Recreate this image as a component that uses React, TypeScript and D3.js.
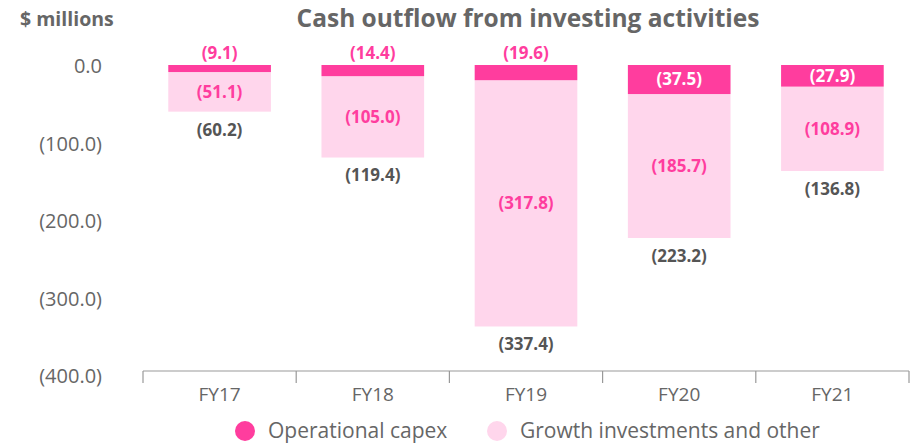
import * as d3 from 'd3';

const years = ['FY17', 'FY18', 'FY19', 'FY20', 'FY21'];
const capex = [9.1, 14.4, 19.6, 37.5, 27.9];
const growth = [51.1, 105.0, 317.8, 185.7, 108.9];
const totals = [60.2, 119.4, 337.4, 223.2, 136.8];
const yTicks = [0, -100, -200, -300, -400];

const DARK = '#ff3d9e';
const LIGHT = '#ffd6ec';
const GREY = '#666666';
const FONT = '"Open Sans", Lato, sans-serif';

const fmt = (v: number) => (v === 0 ? '0.0' : `(${Math.abs(v).toFixed(1)})`);

function App() {
  const width = 910;
  const height = 443;
  const axisY = 371;

  const x = d3.scaleBand<string>()
    .domain(years)
    .range([143, 909])
    .paddingInner(0.33)
    .paddingOuter(0.165);

  const y = d3.scaleLinear().domain([0, -400]).range([65, 375]);

  return (
    <svg width={width} height={height} style={{ position: 'absolute', left: 0, top: 0, fontFamily: FONT }}>
      <rect width={width} height={height} fill="#fff" />
      <text x={20} y={26} fontSize={19.5} fontWeight={700} fill={GREY}>$ millions</text>
      <text x={528} y={27} fontSize={24.5} fontWeight={700} fill={GREY} textAnchor="middle">
        Cash outflow from investing activities
      </text>

      {/* y tick labels */}
      {yTicks.map(t => (
        <text key={t} x={102} y={y(t) + 1} dy="0.35em" textAnchor="end" fontSize={20} fill={GREY}>
          {fmt(t)}
        </text>
      ))}

      {/* bars */}
      {years.map((yr, i) => {
        const x0 = x(yr)!;
        const bw = x.bandwidth();
        const cx = x0 + bw / 2;
        const c = capex[i];
        const g = growth[i];
        const capBottom = y(-c);
        const bottom = y(-(c + g));
        const big = capBottom - y(0) > 20;
        return (
          <g key={yr}>
            <rect x={x0} y={capBottom} width={bw} height={bottom - capBottom} fill={LIGHT} />
            <rect x={x0} y={y(0)} width={bw} height={capBottom - y(0)} fill={DARK} />
            <text
              x={cx}
              y={big ? (y(0) + capBottom) / 2 : y(0) - 12}
              dy="0.35em"
              textAnchor="middle"
              fontSize={17}
              fontWeight={700}
              fill={big ? '#fff' : DARK}
            >
              {fmt(-c)}
            </text>
            <text x={cx} y={(capBottom + bottom) / 2} dy="0.35em" textAnchor="middle" fontSize={17} fontWeight={700} fill={DARK}>
              {fmt(-g)}
            </text>
            <text x={cx} y={bottom + 18} dy="0.35em" textAnchor="middle" fontSize={17} fontWeight={700} fill="#555">
              {fmt(-totals[i])}
            </text>
          </g>
        );
      })}

      {/* x axis */}
      <g>
        <line x1={143} x2={909} y1={axisY} y2={axisY} stroke="#999" strokeWidth={1.2} />
        {[...years.map(yr => x(yr)! - x.step() * 0.165), 909].map((tx, i) => (
          <line key={i} x1={tx} x2={tx} y1={axisY} y2={axisY + 12} stroke="#999" strokeWidth={1.2} />
        ))}
        {years.map(yr => (
          <text key={yr} x={x(yr)! + x.bandwidth() / 2} y={394} dy="0.35em" textAnchor="middle" fontSize={19} fill={GREY}>
            {yr}
          </text>
        ))}
      </g>

      {/* legend */}
      <circle cx={245} cy={431} r={10} fill={DARK} />
      <text x={268} y={431} dy="0.35em" fontSize={21} fill={GREY}>Operational capex</text>
      <circle cx={497} cy={431} r={10} fill={LIGHT} />
      <text x={520} y={431} dy="0.35em" fontSize={21} fill={GREY}>Growth investments and other</text>
    </svg>
  );
}

export default App;
